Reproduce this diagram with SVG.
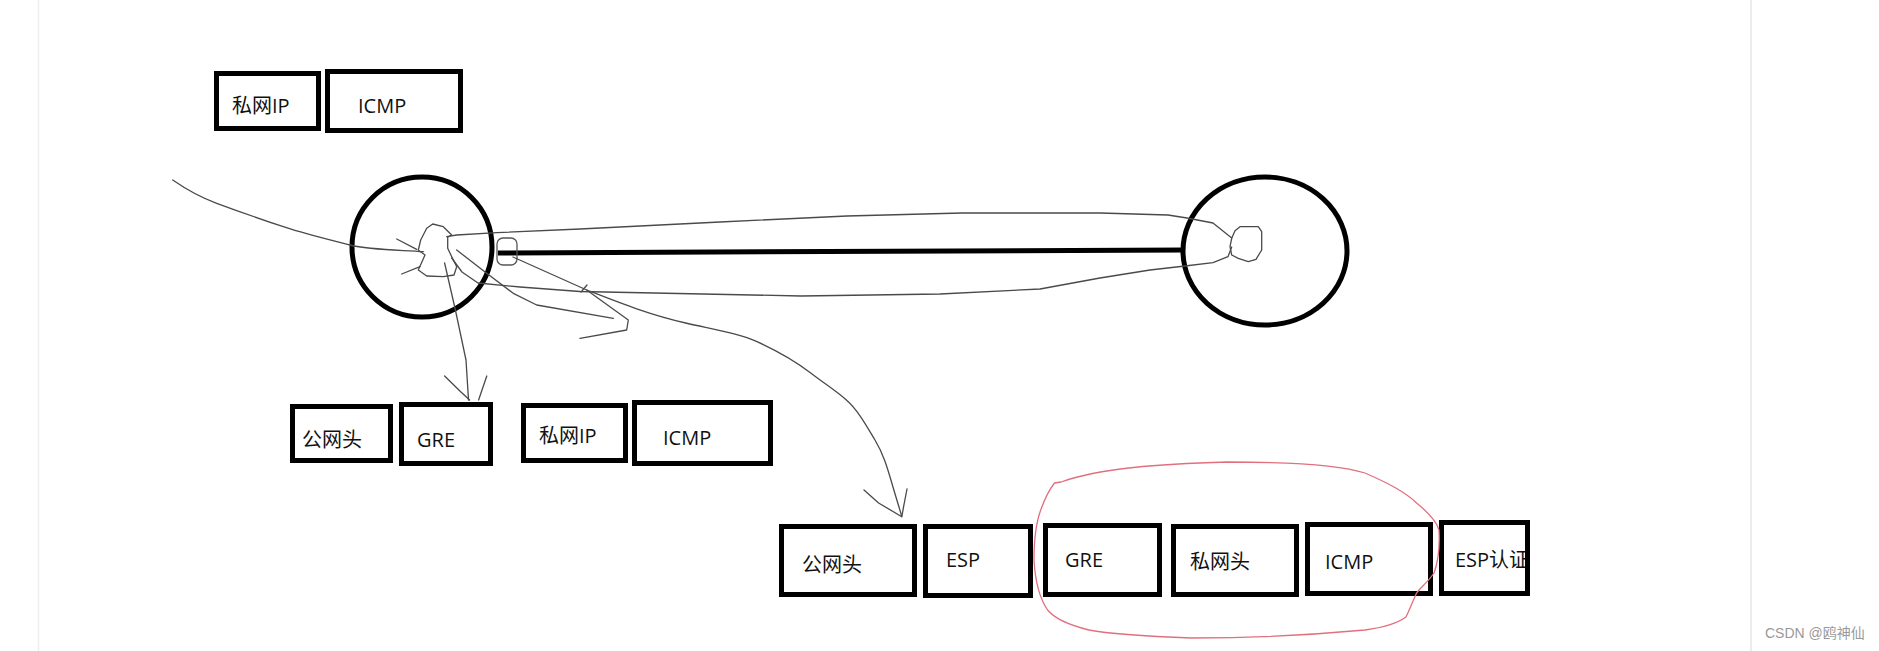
<svg xmlns="http://www.w3.org/2000/svg" width="1879" height="651" viewBox="0 0 1879 651">
<style>
.box{fill:#fff;stroke:#000;stroke-width:5}
.t{font-family:"Open Sans","Noto Sans CJK SC",sans-serif;font-size:20px;fill:#111}
.pen{fill:none;stroke:#4a4a4a;stroke-width:1.3;stroke-linejoin:round;stroke-linecap:round}
.ring{fill:none;stroke:#000;stroke-width:5}
.red{fill:none;stroke:#e0707e;stroke-width:1.3;stroke-linejoin:round}
</style>
<defs>
<clipPath id="clipEsp"><rect x="1441.5" y="522.5" width="86" height="71"/></clipPath>
</defs>
<rect width="1879" height="651" fill="#fff"/>
<line x1="38.5" y1="0" x2="38.5" y2="651" stroke="#eeeeee" stroke-width="1.5"/>
<line x1="1751" y1="0" x2="1751" y2="651" stroke="#ececec" stroke-width="2"/>

<g id="top-privip"><rect class="box" x="216.5" y="73.5" width="102" height="55"/><text class="t" x="232" y="113">私网IP</text></g>
<g id="top-icmp"><rect class="box" x="327.5" y="71.5" width="133" height="59"/><text class="t" x="358" y="113">ICMP</text></g>

<g id="router-left">
<circle class="ring" cx="422" cy="247" r="70"/>
<path class="pen" d="M432.7,224 L426.7,228.3 L420.7,240 L418.3,250 L425,255 L418.3,270 L426.7,276 L443.3,276.7 L454,275 L456.7,266.7 L451.7,256.7 L447.7,248.3 L447.7,237.3 L451.7,235 L443.3,226.7 Z"/>
<path class="pen" d="M396.7,239 L416.7,249.3"/>
<path class="pen" d="M401.7,274 L420,266.7"/>
</g>
<g id="router-right">
<ellipse class="ring" cx="1265" cy="251" rx="82" ry="74"/>
<path class="pen" d="M1231.7,238.3 L1235,230.7 L1240,226.7 L1258.3,226.7 L1261.7,231.7 L1261.7,250 L1256,259.3 L1248.3,261.7 L1238.3,258.3 L1231.7,255 L1230,246.7 Z"/>
</g>

<g id="row1-pub"><rect class="box" x="292.5" y="406.5" width="98" height="54"/><text class="t" x="302" y="447">公网头</text></g>
<g id="row1-gre"><rect class="box" x="401.5" y="404.5" width="89" height="59"/><text class="t" x="417" y="447">GRE</text></g>
<g id="row1-privip"><rect class="box" x="523.5" y="405.5" width="102" height="55"/><text class="t" x="539" y="443">私网IP</text></g>
<g id="row1-icmp"><rect class="box" x="634.5" y="402.5" width="136" height="61"/><text class="t" x="663" y="445">ICMP</text></g>

<g id="row2-pub"><rect class="box" x="781.5" y="526.5" width="133" height="68"/><text class="t" x="802" y="572">公网头</text></g>
<g id="row2-esp"><rect class="box" x="925.5" y="526.5" width="105" height="69"/><text class="t" x="946" y="567">ESP</text></g>
<g id="row2-gre"><rect class="box" x="1045.5" y="525.5" width="114" height="69"/><text class="t" x="1065" y="567">GRE</text></g>
<g id="row2-privhdr"><rect class="box" x="1173.5" y="526.5" width="123" height="68"/><text class="t" x="1190" y="569">私网头</text></g>
<g id="row2-icmp"><rect class="box" x="1307.5" y="524.5" width="123" height="69"/><text class="t" x="1325" y="569">ICMP</text></g>
<g id="row2-espauth"><rect class="box" x="1441.5" y="522.5" width="86" height="71"/><text class="t" x="1455" y="567" clip-path="url(#clipEsp)">ESP认证</text><rect x="1441.5" y="522.5" width="86" height="71" fill="none" stroke="#000" stroke-width="5"/></g>

<g id="connectors">
<path class="pen" d="M172.7,180 C190,192 205,199 216.7,203.3 S260,219 283.3,226.7 S330,240 350,245 S400,250 423.3,251.7"/>
<line x1="498" y1="253" x2="1185" y2="250" stroke="#000" stroke-width="5"/>
<rect x="497" y="238" width="20" height="27" rx="6" fill="none" stroke="#555" stroke-width="1.3"/>
<path class="pen" d="M446.7,236.7 L456.7,235 L497,232.7 L580,229 L720,222 L847,216 L962,213 L1100,213 L1168,215 L1187,218 L1213,223 L1231.7,238"/>
<path class="pen" d="M451.7,258 L462,272 L478,283 L520,287 L580,291.5 L801,296 L940,294 L1040,289 L1100,278 L1150,270 L1185,266 L1213,262.7 L1228,256.7 L1231.7,247"/>
<path class="pen" d="M456.7,250 L486.7,273.3 L513.3,293.3 L536.7,305 L613.3,318.3"/>
<path class="pen" d="M513,257 L586.7,290 L628.3,320 L626.7,330 L580,338.3"/>
<path class="pen" d="M581,292 L587,285" stroke-width="2.5" stroke="#999"/>
<path class="pen" d="M586.7,290 C620,303 650,315 685.7,323 S740,334 757,341.7 S795,361 810.7,373 S835,390 846.4,400 S866,425 875,440 S888,470 892.9,486.7 S900,510 901.8,516.7"/>
<path class="pen" d="M864,490 L878.6,503 L901.8,516.7 L903.6,506.7 L907,489"/>
<path class="pen" d="M444.6,263 L455.4,310 L466,360 L468.5,400"/>
<path class="pen" d="M444.6,376 L460.7,391.7 L469.6,400"/>
<path class="pen" d="M486.8,376 L482,390 L478.6,400"/>
</g>

<g id="highlight">
<path class="red" d="M1054.5,483 L1061,482 C1100,468 1160,464 1227,462 C1290,462 1340,465 1365,473 C1390,484 1405,492 1416.6,503 C1430,514 1437,522 1439,530 C1440,548 1438,562 1434,573 C1428,582 1420,588 1416.6,593 C1412,603 1409,611 1406,617 C1395,625 1380,628 1365,630 C1300,636 1250,638 1192,638 C1140,636 1110,634 1089,630 C1065,624 1054,618 1047.6,610 C1038,596 1035,578 1034,560 C1034,540 1036,523 1040.7,510 C1045,498 1049,490 1054.5,483 Z"/>
</g>

<text x="1765" y="638" font-family="'Liberation Sans','Noto Sans CJK SC',sans-serif" font-size="14" fill="#999">CSDN @鸥神仙</text>
</svg>
